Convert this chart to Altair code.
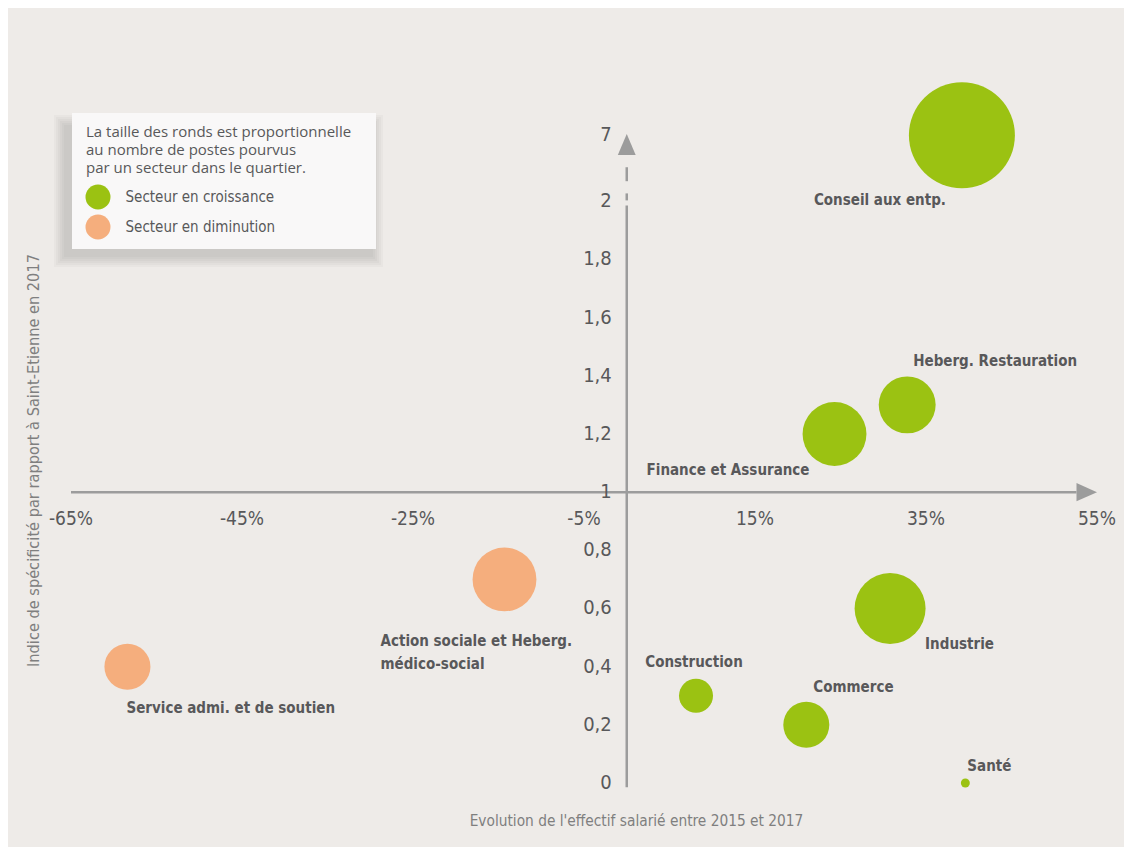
import altair as alt
import pandas as pd

# ------------------------------------------------------------------ data
secteurs = [
    "Conseil aux entp.",
    "Heberg. Restauration",
    "Finance et Assurance",
    "Industrie",
    "Commerce",
    "Construction",
    "Santé",
    "Action sociale et Heberg. médico-social",
    "Service admi. et de soutien",
]
evolution = [39.2, 32.8, 24.3, 30.8, 21.0, 8.1, 39.6, -14.3, -58.4]   # %
indice = [7.0, 1.3, 1.2, 0.6, 0.2, 0.3, 0.0, 0.7, 0.4]
postes = [2810, 810, 1020, 1260, 530, 290, 20, 1020, 530]
tendance = ["Secteur en croissance"] * 7 + ["Secteur en diminution"] * 2

y_ticks = [0, 0.2, 0.4, 0.6, 0.8, 1, 1.2, 1.4, 1.6, 1.8, 2, 7]
y_tick_labels = ["0", "0,2", "0,4", "0,6", "0,8", "1", "1,2", "1,4", "1,6", "1,8", "2", "7"]
x_ticks = [-65, -45, -25, -5, 15, 35, 55]
x_tick_labels = ["-65%", "-45%", "-25%", "-5%", "15%", "35%", "55%"]

legend_note = [
    "La taille des ronds est proportionnelle",
    "au nombre de postes pourvus",
    "par un secteur dans le quartier.",
]
legend_labels = ["Secteur en croissance", "Secteur en diminution"]

x_title = "Evolution de l'effectif salarié entre 2015 et 2017"
y_title = "Indice de spécificité par rapport à Saint-Etienne en 2017"

# ------------------------------------------------------------------ style
BG = "#EEEBE8"
GREEN = "#9BC212"
ORANGE = "#F5AE7D"
AXIS = "#9C9C9C"
TXT = "#58585A"
BOX = "#F9F8F8"
NARROW = "DejaVu Sans Condensed, Liberation Sans Narrow, sans-serif"

# broken y axis: everything above 2 is squeezed
BREAK_AT = 2.0
SQUEEZE = 0.0454


def y_pos(v):
    return v if v <= BREAK_AT else BREAK_AT + (v - BREAK_AT) * SQUEEZE


X_SCALE = alt.Scale(domain=[-65, 55], nice=False, zero=False)
Y_SCALE = alt.Scale(domain=[0, 2.3], nice=False, zero=False)
X_AXIS = alt.Axis(title=x_title, labels=False, ticks=False, domain=False, grid=False,
                  titleX=565, titleY=37, titleBaseline="middle", titleAlign="center",
                  titleFont=NARROW, titleFontSize=15.3, titleFontWeight="normal",
                  titleColor="#7F7F7F")
Y_AXIS = alt.Axis(title=y_title, labels=False, ticks=False, domain=False, grid=False,
                  titleX=-38, titleY=346, titleAngle=270, titleBaseline="middle",
                  titleAlign="center", titleFont=NARROW, titleFontSize=16.2,
                  titleFontWeight="normal", titleColor="#7F7F7F")


def X(f="x"):
    return alt.X(f"{f}:Q", scale=X_SCALE, axis=X_AXIS)


def Y(f="y"):
    return alt.Y(f"{f}:Q", scale=Y_SCALE, axis=Y_AXIS)


# ------------------------------------------------------------------ frames
label_text = {s: s for s in secteurs}
label_text["Action sociale et Heberg. médico-social"] = "Action sociale et Heberg.\nmédico-social"

pts = pd.DataFrame({
    "secteur": secteurs,
    "label": [label_text[s] for s in secteurs],
    "x": evolution,
    "y": [y_pos(v) for v in indice],
    "postes": postes,
    "tendance": tendance,
})

ytick_df = pd.DataFrame({"x": [0] * len(y_ticks), "y": [y_pos(v) for v in y_ticks],
                         "label": y_tick_labels})
xtick_df = pd.DataFrame({"x": x_ticks, "y": [1] * len(x_ticks), "label": x_tick_labels})

# axis lines (in data units)
yaxis_df = pd.DataFrame({"x": [0, 0, 0], "y": [-0.015, 2.003, 2.069], "y2": [1.985, 2.027, 2.117]})
xaxis_df = pd.DataFrame({"x": [-65], "x2": [52.6], "y": [1]})
yarrow_df = pd.DataFrame({"x": [0], "y": [2.195]})
xarrow_df = pd.DataFrame({"x": [53.8], "y": [1]})

# ------------------------------------------------------------------ layers
layers = []
dummy = pd.DataFrame({"a": [0]})

# legend box: soft shadow (down-left) + light panel (view pixel coordinates)
for k in [0, 2, 4, 6, 8, 10]:
    layers.append(
        alt.Chart(dummy).mark_rect(color="#000000", opacity=0.025).encode(
            x=alt.value(1 - 8 - k), x2=alt.value(305 - 3 + k),
            y=alt.value(-1 + 12 - k), y2=alt.value(135 + 8 + k))
    )
layers.append(alt.Chart(dummy).mark_rect(color=BOX, opacity=1).encode(
    x=alt.value(1), x2=alt.value(305), y=alt.value(-1), y2=alt.value(135)))
for i, line in enumerate(legend_note):
    layers.append(alt.Chart(dummy).mark_text(
        text=line, align="left", baseline="alphabetic", font="Open Sans",
        fontSize=15, color=TXT
    ).encode(x=alt.value(15), y=alt.value(23 + 18 * i)))

layers.append(alt.Chart(yaxis_df).mark_rule(color=AXIS, strokeWidth=2.5).encode(
    x=X(), y=Y(), y2="y2:Q"))
layers.append(alt.Chart(xaxis_df).mark_rule(color=AXIS, strokeWidth=2.5).encode(
    x=X(), x2="x2:Q", y=Y()))
layers.append(alt.Chart(yarrow_df).mark_point(
    shape="M-0.85,1L0.85,1L0,-1Z", size=441, filled=True, color=AXIS, opacity=1,
    strokeWidth=0).encode(x=X(), y=Y()))
layers.append(alt.Chart(xarrow_df).mark_point(
    shape="M-1,-0.9L1,0L-1,0.9Z", size=420, filled=True, color=AXIS, opacity=1,
    strokeWidth=0).encode(x=X(), y=Y()))

layers.append(alt.Chart(ytick_df).mark_text(
    align="right", baseline="middle", dx=-15, font=NARROW, fontSize=20, color=TXT
).encode(x=X(), y=Y(), text="label:N"))
layers.append(alt.Chart(xtick_df).mark_text(
    align="center", baseline="middle", dy=27, font=NARROW, fontSize=19, color=TXT
).encode(x=X(), y=Y(), text="label:N"))

legend = alt.Legend(
    orient="none", legendX=14.5, legendY=70.5, direction="vertical", title=None,
    labelFont=NARROW, labelFontSize=15, labelColor=TXT, labelOffset=15, labelLimit=400,
    symbolType="circle", symbolSize=625, symbolStrokeWidth=0, symbolOpacity=1,
    rowPadding=5, padding=0,
)

layers.append(alt.Chart(pts).mark_circle(opacity=1).encode(
    x=X(), y=Y(),
    size=alt.Size("postes:Q", scale=alt.Scale(domain=[0, 2810], range=[0, 11236]), legend=None),
    color=alt.Color("tendance:N", scale=alt.Scale(domain=legend_labels, range=[GREEN, ORANGE]),
                    legend=legend),
))

label_style = {
    "Conseil aux entp.": dict(dx=-148, dy=65, align="left"),
    "Heberg. Restauration": dict(dx=6, dy=-44, align="left"),
    "Finance et Assurance": dict(dx=-25, dy=36, align="right"),
    "Industrie": dict(dx=35, dy=36, align="left"),
    "Commerce": dict(dx=7, dy=-38, align="left"),
    "Construction": dict(dx=-2, dy=-34, align="center"),
    "Santé": dict(dx=2, dy=-17, align="left"),
    "Action sociale et Heberg. médico-social": dict(dx=-124, dy=62, align="left"),
    "Service admi. et de soutien": dict(dx=-1, dy=41, align="left"),
}
for name, st in label_style.items():
    layers.append(alt.Chart(pts[pts["secteur"] == name]).mark_text(
        baseline="middle", font=NARROW, fontSize=15, fontWeight="bold", color=TXT,
        lineBreak="\n", lineHeight=23, **st
    ).encode(x=X(), y=Y(), text="label:N"))

chart = alt.layer(*layers).properties(
    width=1026, height=669,
    autosize=alt.AutoSizeParams(type="none"),
    padding={"left": 63, "top": 106, "right": 27, "bottom": 64},
    background=BG,
).configure_view(stroke=None)

chart.save("out.html", embed_options={"renderer": "svg", "actions": False})
